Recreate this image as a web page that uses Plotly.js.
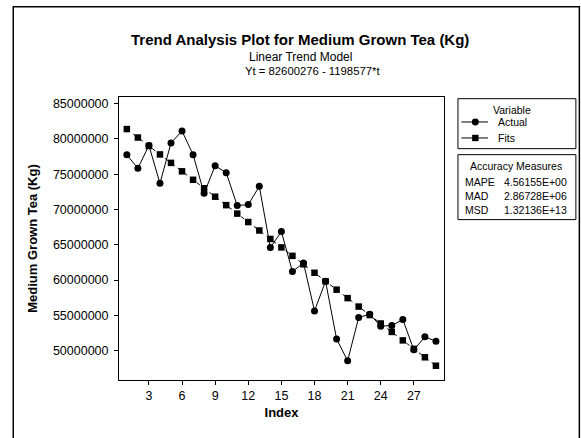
<!DOCTYPE html>
<html>
<head>
<meta charset="utf-8">
<script src="https://cdn.plot.ly/plotly-3.0.1.min.js"></script>
<style>html,body{margin:0;padding:0;background:#fff;}#chart{width:581px;height:438px;}</style>
</head>
<body>
<div id="chart"></div>
<script>
// ---- data ----
const indexValues = [1,2,3,4,5,6,7,8,9,10,11,12,13,14,15,16,17,18,19,20,21,22,23,24,25,26,27,28,29];
const actualValues = [77770000,75830000,79090000,73710000,79430000,81130000,77770000,72290000,76210000,75220000,
  70550000,70690000,73280000,64600000,66860000,61190000,62420000,55620000,59820000,51650000,
  48540000,54680000,55150000,53450000,53540000,54390000,50100000,51940000,51320000];
const fitValues = [81401699,80203122,79004545,77805968,76607391,75408814,74210237,73011660,71813083,70614506,
  69415929,68217352,67018775,65820198,64621621,63423044,62224467,61025890,59827313,58628736,
  57430159,56231582,55033005,53834428,52635851,51437274,50238697,49040120,47841543];
const xTickVals = [3,6,9,12,15,18,21,24,27];
const seriesNames = ['Actual','Fits'];
const accuracyLabels = ['MAPE','MAD','MSD'];
const accuracyValues = ['4.56155E+00','2.86728E+06','1.32136E+13'];
const titleText = 'Trend Analysis Plot for Medium Grown Tea (Kg)';
const subTitle1 = 'Linear Trend Model';
const subTitle2 = 'Yt = 82600276 - 1198577*t';

// ---- layout helpers (pixel -> paper) ----
const W = 581, H = 438;
const M = {l:118.5, r:W-444.3, t:97.3, b:H-380.5};
const PW = W - M.l - M.r, PH = H - M.t - M.b;
const px = x => (x - M.l) / PW;
const py = y => (H - M.b - y) / PH;
const FONT = "'Liberation Sans', Arial, sans-serif";

const traces = [
  {x: indexValues, y: actualValues, name: seriesNames[0], type:'scatter', mode:'lines+markers',
   line:{color:'#000', width:1}, marker:{symbol:'circle', size:7, color:'#000'}, showlegend:false},
  {x: indexValues, y: fitValues, name: seriesNames[1], type:'scatter', mode:'lines+markers',
   line:{color:'#000', width:1, dash:'4px,4px'}, marker:{symbol:'square', size:6.5, color:'#000'}, showlegend:false}
];

const shapes = [
  // outer frame
  {type:'rect', xref:'paper', yref:'paper', x0:px(12.5), x1:px(580), y0:py(450), y1:py(7), line:{color:'#000', width:1.5}},
  // legend boxes
  {type:'rect', xref:'paper', yref:'paper', x0:px(458.3), x1:px(576.5), y0:py(149), y1:py(99), line:{color:'#000', width:1}},
  {type:'rect', xref:'paper', yref:'paper', x0:px(458.3), x1:px(576.5), y0:py(220), y1:py(155), line:{color:'#000', width:1}},
  // legend samples
  {type:'line', xref:'paper', yref:'paper', x0:px(461.7), x1:px(488.3), y0:py(122.3), y1:py(122.3), line:{color:'#000', width:1}},
  {type:'circle', xref:'paper', yref:'paper', x0:px(472.2), x1:px(479.2), y0:py(125.8), y1:py(118.8), fillcolor:'#000', line:{color:'#000', width:0}},
  {type:'line', xref:'paper', yref:'paper', x0:px(461.7), x1:px(488.3), y0:py(138.3), y1:py(138.3), line:{color:'#000', width:1}},
  {type:'rect', xref:'paper', yref:'paper', x0:px(472.5), x1:px(478.9), y0:py(141.5), y1:py(135.1), fillcolor:'#000', line:{color:'#000', width:0}}
];

const ann = (text, x, y, opts={}) => Object.assign({
  text, xref:'paper', yref:'paper', x:px(x), y:py(y), showarrow:false,
  xanchor:'center', yanchor:'middle', font:{family:FONT, size:10.5, color:'#000'}
}, opts);

const annotations = [
  ann('<b>'+titleText+'</b>', 300, 40, {font:{family:FONT, size:15, color:'#000'}}),
  ann(subTitle1, 300, 57.7, {font:{family:FONT, size:12, color:'#000'}}),
  ann(subTitle2, 312, 71.7, {font:{family:FONT, size:11.3, color:'#000'}}),
  ann('Variable', 512, 110),
  ann(seriesNames[0], 496, 122.3, {xanchor:'left'}),
  ann(seriesNames[1], 496, 138.3, {xanchor:'left'}),
  ann('Accuracy Measures', 516, 166.7)
];
accuracyLabels.forEach((lab, i) => {
  const yy = 182.3 + i*14.2;
  annotations.push(ann(lab, 463, yy, {xanchor:'left'}));
  annotations.push(ann(accuracyValues[i], 570, yy, {xanchor:'right'}));
});

const layout = {
  width: W, height: H,
  margin: M,
  paper_bgcolor:'#fff', plot_bgcolor:'#fff',
  font:{family:FONT, size:12, color:'#000'},
  showlegend:false,
  xaxis:{
    range:[0.29, 29.73], tickmode:'array', tickvals:xTickVals,
    ticks:'outside', ticklen:4, tickcolor:'#000', showgrid:false, zeroline:false,
    showline:true, linecolor:'#000', linewidth:1, mirror:true,
    tickfont:{family:FONT, size:12.5},
    title:{text:'<b>Index</b>', font:{family:FONT, size:13}, standoff:5}
  },
  yaxis:{
    range:[45820000, 85950000], dtick:5000000, tick0:0, tickformat:'d',
    ticks:'outside', ticklen:4, tickcolor:'#000', showgrid:false, zeroline:false,
    showline:true, linecolor:'#000', linewidth:1, mirror:true,
    ticklabelstandoff:3,
    tickfont:{family:FONT, size:12.5},
    title:{text:'<b>Medium Grown Tea (Kg)</b>', font:{family:FONT, size:13}, standoff:12}
  },
  shapes, annotations
};

Plotly.newPlot('chart', traces, layout, {displayModeBar:false, staticPlot:true});
</script>
</body>
</html>
